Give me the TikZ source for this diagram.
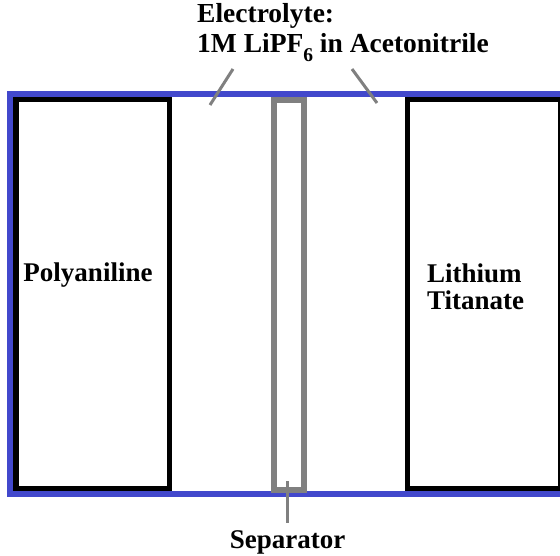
\documentclass[tikz,border=0pt]{standalone}
\usepackage{fontspec}
\setmainfont{Liberation Serif}
\usetikzlibrary{positioning, calc}
\definecolor{cellblue}{RGB}{66,72,204}
\definecolor{sepgray}{RGB}{128,128,128}

\begin{document}
\begin{tikzpicture}[
    x=1pt, y=-1pt,
    casing/.style={rectangle, draw=cellblue, line width=6pt, inner sep=0pt},
    electrode/.style={rectangle, draw=black, line width=5.5pt, minimum width=153.5pt, minimum height=388.5pt, inner sep=0pt},
    separator/.style={rectangle, draw=sepgray, line width=6pt, minimum width=30pt, minimum height=389.5pt, inner sep=0pt},
    lbl/.style={font=\fontsize{27}{27}\selectfont\bfseries, inner sep=0pt, align=left},
    pointer/.style={draw=sepgray, line width=3pt}
]
    \useasboundingbox (0,0) rectangle (560,556);

    % Cell casing
    \node[casing, minimum width=556pt, minimum height=400pt] (cell) at (288,294) {};

    % Electrodes and separator
    \node[electrode] (cathode) at (92.5,294) {};
    \node[electrode] (anode) at (484,294) {};
    \node[separator] (sep) at (289,294.75) {};

    \node[lbl, anchor=base] (pani) at (88,282) {Polyaniline};
    \node[lbl, anchor=base west] (lto) at (427,309) {Lithium\\Titanate};

    % Electrolyte
    \node[lbl, anchor=base west, font=\fontsize{27.5}{30}\selectfont\bfseries] (elyte) at (197,53)
        {Electrolyte:\\1M LiPF\raisebox{-9pt}{\fontsize{19.5}{19.5}\selectfont 6} in Acetonitrile};
    \coordinate (elL) at (210,105);
    \coordinate (elR) at (377,103);
    \draw[pointer] ([shift={(36,16)}]elyte.base west) -- (elL);
    \draw[pointer] ([shift={(155,16)}]elyte.base west) -- (elR);

    % Separator label
    \node[lbl, anchor=north, inner sep=7pt] (seplbl) at (287.5,523) {Separator};
    \coordinate (septop) at (287.5,481);
    \draw[pointer] (septop) -- (seplbl.north);
\end{tikzpicture}
\end{document}
